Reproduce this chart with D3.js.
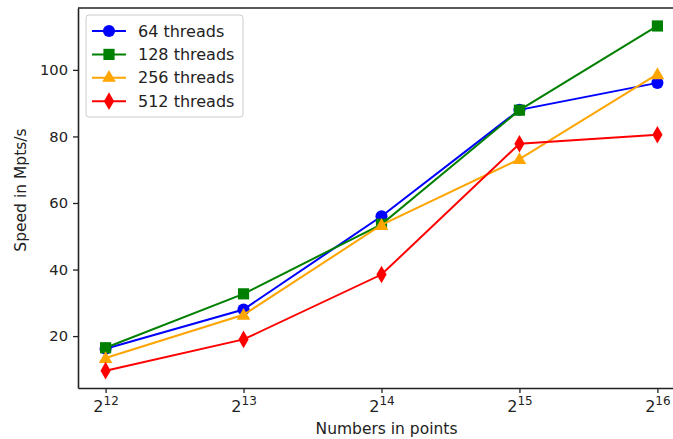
<!DOCTYPE html>
<html>
<head>
<meta charset="utf-8">
<script src="https://cdn.jsdelivr.net/npm/d3@7"></script>
<style>
  body { margin: 0; background: #fff; }
  text { font-family: "DejaVu Sans", sans-serif; fill: #222; }
</style>
</head>
<body>
<div id="chart"></div>
<script>
// data
var exponents = [12, 13, 14, 15, 16];
var yTicks = [20, 40, 60, 80, 100];
var seriesNames = ["64 threads", "128 threads", "256 threads", "512 threads"];
var seriesColors = ["blue", "green", "orange", "red"];
var threads64 = [16.2, 28.0, 56.0, 88.0, 96.1];
var threads128 = [16.5, 32.7, 53.6, 87.9, 113.2];
var threads256 = [13.4, 26.4, 53.4, 73.2, 98.7];
var threads512 = [9.6, 19.0, 38.5, 77.8, 80.5];

var series = [threads64, threads128, threads256, threads512];
var symbols = [d3.symbolCircle, d3.symbolSquare, d3.symbolTriangle, d3.symbolDiamond];
var symSizes = [115, 125, 80, 90];

var W = 673, H = 439;
var margin = {top: 8, right: -10, bottom: 51, left: 78};
var width = W - margin.left - margin.right, height = H - margin.top - margin.bottom;

var svg = d3.select("#chart").append("svg").attr("width", W).attr("height", H)
  .append("g").attr("transform", "translate(" + margin.left + "," + margin.top + ")");

var x = d3.scaleLinear().domain([11.8, 16.2]).range([0, 685 - margin.left]);
var y = d3.scaleLinear().domain([4.4, 118.6]).range([height, 0]);

// axes
var xAxis = svg.append("g").attr("transform", "translate(0," + height + ")")
  .call(d3.axisBottom(x).tickValues(exponents).tickSize(5).tickSizeOuter(0).tickFormat(""));
xAxis.selectAll(".tick").append("text").attr("y", 24).attr("text-anchor", "middle")
  .style("font-size", "16px")
  .each(function(d) {
    var t = d3.select(this);
    t.append("tspan").text("2");
    t.append("tspan").attr("dy", -7).style("font-size", "12px").text(d);
  });

var yAxis = svg.append("g").call(d3.axisLeft(y).tickValues(yTicks).tickSize(5).tickSizeOuter(0).tickPadding(5));
yAxis.selectAll("text").style("font-size", "14.7px").attr("fill", "#222");

[xAxis, yAxis].forEach(function(a) {
  a.select(".domain").attr("stroke", "#222").attr("stroke-width", 1.6);
  a.selectAll(".tick line").attr("stroke", "#222").attr("stroke-width", 1.3);
});
svg.append("line").attr("x1", 0).attr("x2", width).attr("y1", 0).attr("y2", 0)
  .attr("stroke", "#222").attr("stroke-width", 1.6);

// labels
svg.append("text").attr("x", x(14) + 5).attr("y", height + 46).attr("text-anchor", "middle")
  .style("font-size", "15.5px").text("Numbers in points");
svg.append("text").attr("transform", "rotate(-90)").attr("x", -182).attr("y", -52)
  .attr("text-anchor", "middle").style("font-size", "15.5px").text("Speed in Mpts/s");

// lines and markers
var line = d3.line().x(function(d, i) { return x(exponents[i]); }).y(function(d) { return y(d); });
series.forEach(function(s, k) {
  svg.append("path").datum(s).attr("d", line).attr("fill", "none")
    .attr("stroke", seriesColors[k]).attr("stroke-width", 2);
  svg.selectAll(".m" + k).data(s).enter().append("path")
    .attr("d", d3.symbol().type(symbols[k]).size(symSizes[k])())
    .attr("transform", function(d, i) {
      return "translate(" + x(exponents[i]) + "," + y(d) + ")" + (k == 2 ? "translate(0,1)" : "");
    })
    .attr("fill", seriesColors[k]);
});

// legend
var leg = svg.append("g").attr("transform", "translate(8,7)");
leg.append("rect").attr("width", 157).attr("height", 102).attr("rx", 3)
  .attr("fill", "#fff").attr("fill-opacity", 0.8).attr("stroke", "#ccc");
seriesNames.forEach(function(n, k) {
  var g = leg.append("g").attr("transform", "translate(0," + (16 + k * 23.4) + ")");
  g.append("line").attr("x1", 6).attr("x2", 40).attr("stroke", seriesColors[k]).attr("stroke-width", 2);
  g.append("path").attr("d", d3.symbol().type(symbols[k]).size(symSizes[k])())
    .attr("transform", "translate(23,0)")
    .attr("fill", seriesColors[k]);
  g.append("text").attr("x", 52).attr("y", 5.5).style("font-size", "16px").text(n);
});
</script>
</body>
</html>
